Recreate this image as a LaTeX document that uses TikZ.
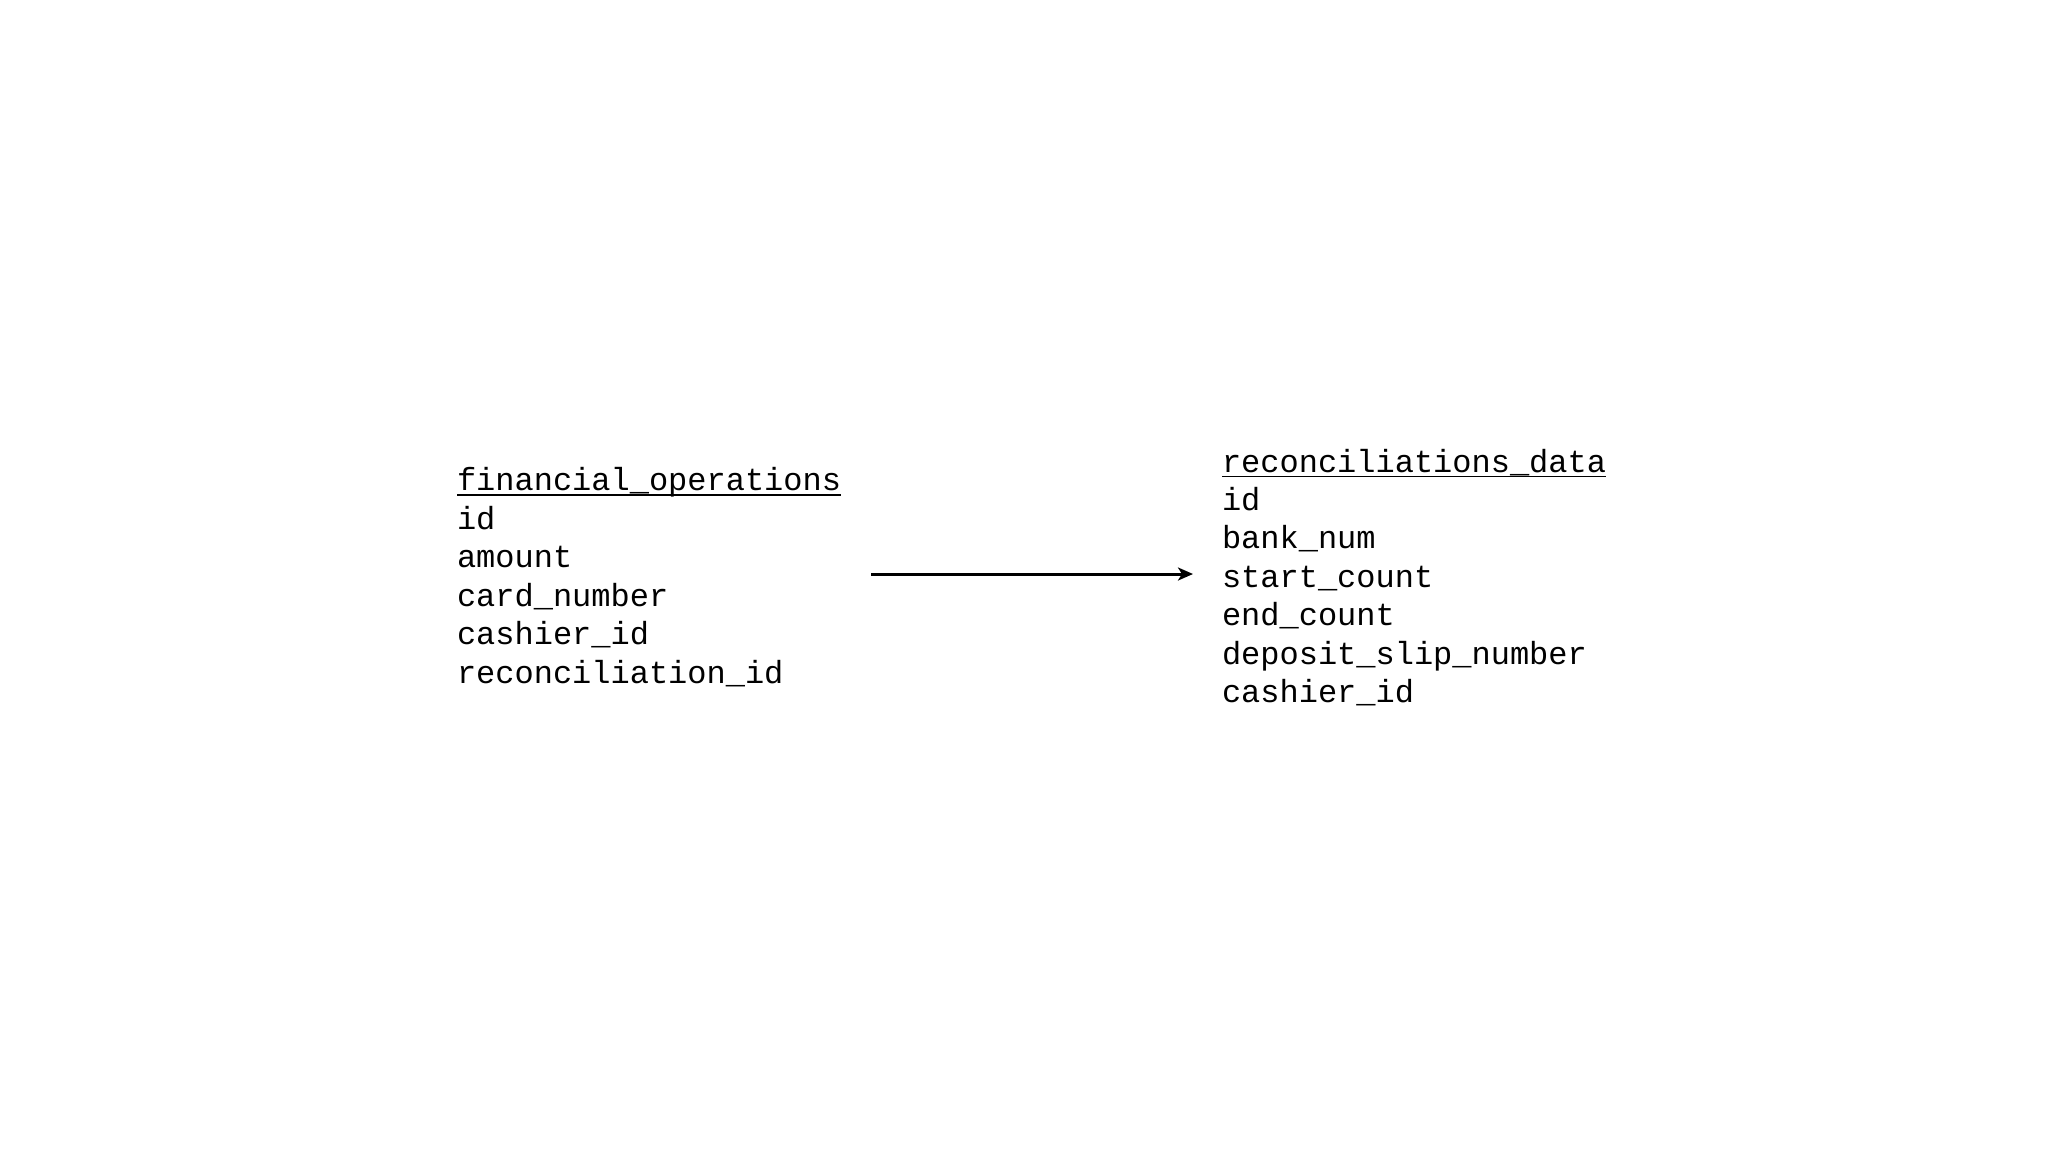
\documentclass[tikz,border=0pt]{standalone}
\usepackage{fontspec}
\setmainfont{Liberation Mono}
\usetikzlibrary{arrows.meta}
\tikzset{
  field/.style={anchor=base west, inner sep=0pt, outer sep=0pt, font=\fontsize{32}{38}\selectfont},
  uline/.style={line width=1.6pt},
  conn/.style={line width=3pt, -{Stealth[length=15pt,width=13pt,inset=4pt]}}
}
\begin{document}
\begin{tikzpicture}[x=1pt,y=-1pt]
\fill[white] (0,0) rectangle (2048,1152);
\useasboundingbox (0,0) rectangle (2048,1152);
% left table
\node[field] (fo)  at (457,490.5) {financial\_operations};
\node[field] (fo1) at (457,529.0) {id};
\node[field] (fo2) at (457,567.5) {amount};
\node[field] (fo3) at (457,606.0) {card\_number};
\node[field] (fo4) at (457,644.5) {cashier\_id};
\node[field] (fo5) at (457,683.0) {reconciliation\_id};
\draw[uline] ([yshift=-4.5pt]fo.base west) -- ([yshift=-4.5pt]fo.base east);
% right table
\node[field] (rd)  at (1222,472.0) {reconciliations\_data};
\node[field] (rd1) at (1222,510.4) {id};
\node[field] (rd2) at (1222,548.8) {bank\_num};
\node[field] (rd3) at (1222,587.2) {start\_count};
\node[field] (rd4) at (1222,625.6) {end\_count};
\node[field] (rd5) at (1222,664.0) {deposit\_slip\_number};
\node[field] (rd6) at (1222,702.4) {cashier\_id};
\draw[uline] ([yshift=-4.5pt]rd.base west) -- ([yshift=-4.5pt]rd.base east);
% connector
\coordinate (a1) at (871,574);
\coordinate (a2) at (1193,574);
\draw[conn] (a1) -- (a2);
\end{tikzpicture}
\end{document}
